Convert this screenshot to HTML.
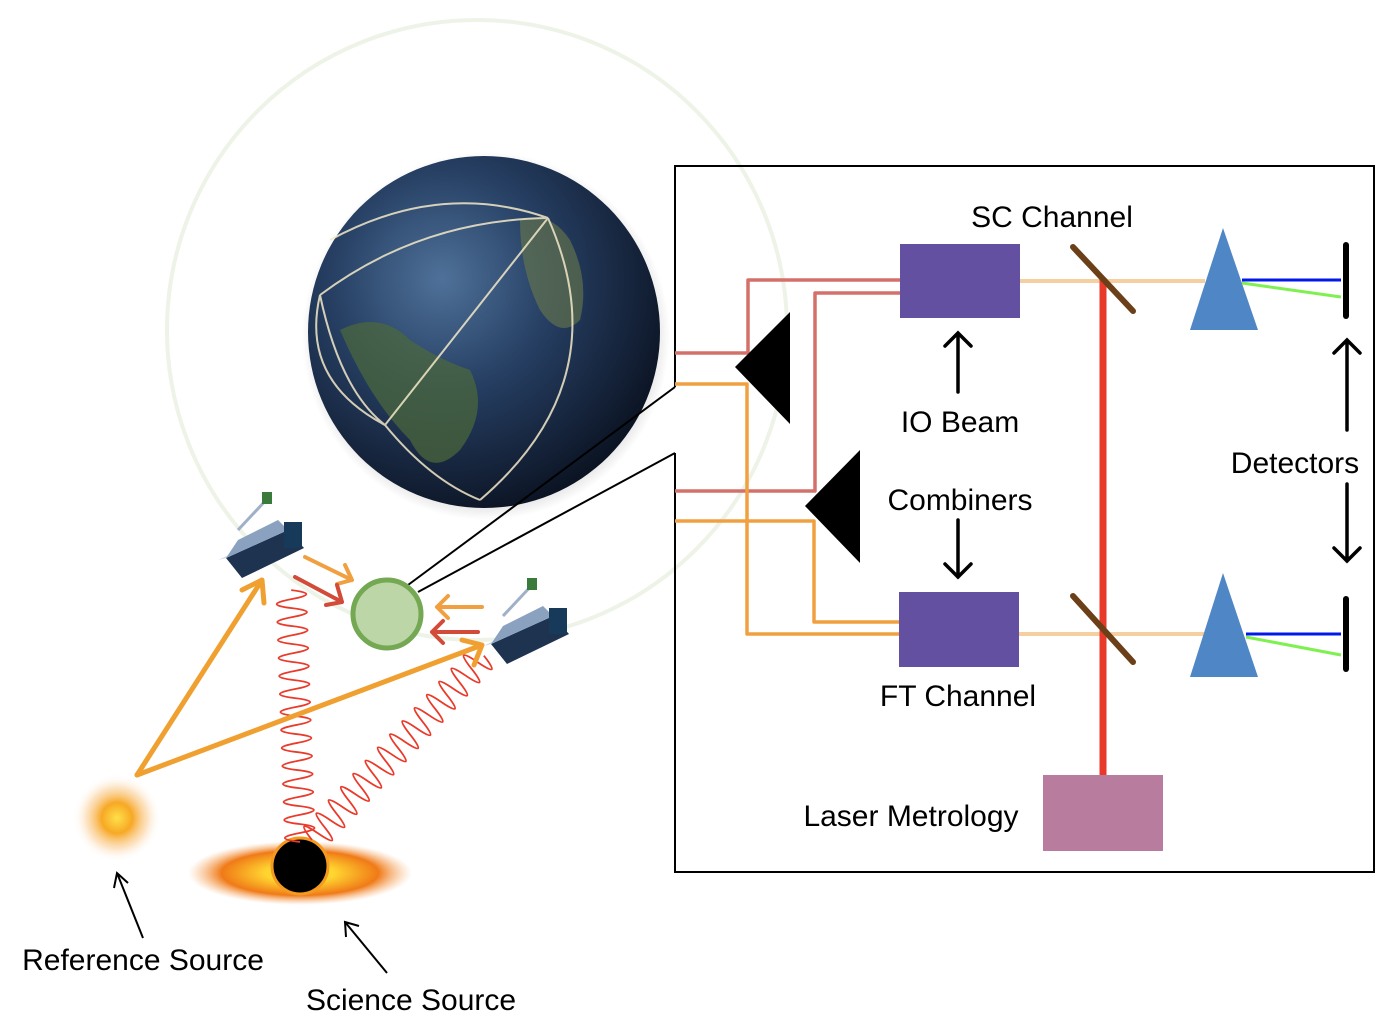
<!DOCTYPE html>
<html><head><meta charset="utf-8"><style>
html,body{margin:0;padding:0;background:#fff;}
svg{display:block;}
text{font-family:"Liberation Sans","DejaVu Sans",sans-serif;fill:#000;}
</style></head><body>
<svg width="1392" height="1034" viewBox="0 0 1392 1034" xmlns="http://www.w3.org/2000/svg">
<defs>
<radialGradient id="earth" cx="0.38" cy="0.35" r="0.7">
<stop offset="0" stop-color="#4f7199"/><stop offset="0.45" stop-color="#263f63"/><stop offset="0.85" stop-color="#121e33"/><stop offset="1" stop-color="#0a1220"/>
</radialGradient>
<radialGradient id="sun"><stop offset="0" stop-color="#ffe04a"/><stop offset="0.35" stop-color="#f7a825"/><stop offset="0.7" stop-color="#fbd2a0" stop-opacity="0.6"/><stop offset="1" stop-color="#fff" stop-opacity="0"/></radialGradient>
<radialGradient id="disk"><stop offset="0.3" stop-color="#ffd630"/><stop offset="0.7" stop-color="#f07a18"/><stop offset="1" stop-color="#f7b070" stop-opacity="0"/></radialGradient>
<radialGradient id="shadow"><stop offset="0.8" stop-color="#000" stop-opacity="0.25"/><stop offset="1" stop-color="#000" stop-opacity="0"/></radialGradient>
</defs>
<circle cx="477" cy="330" r="310" fill="none" stroke="#eef3e8" stroke-width="4"/>
<circle cx="486" cy="336" r="184" fill="url(#shadow)"/>
<circle cx="484" cy="332" r="176" fill="url(#earth)"/>
<path d="M340 330 q40 -20 70 10 q30 20 60 30 q20 40 -10 80 q-30 30 -50 -10 q-40 -40 -70 -110z" fill="#4d6a3a" opacity="0.7"/>
<path d="M520 220 q30 -10 50 20 q20 40 10 80 q-20 20 -40 -10 q-20 -40 -20 -90z" fill="#6b7a4a" opacity="0.6"/>
<g fill="none" stroke="#f3e9c8" stroke-width="2" opacity="0.85">
<path d="M320 295 Q420 220 548 218"/><path d="M548 218 L385 425"/><path d="M548 218 Q620 380 480 500"/>
<path d="M320 295 Q340 390 385 425 Q430 480 480 500"/><path d="M330 240 Q440 180 548 218"/><path d="M320 295 Q300 380 385 425"/>
</g>
<path d="M675 387 L675 166 L1374 166 L1374 872 L675 872 L675 453" fill="none" stroke="#000" stroke-width="2"/>
<line x1="408" y1="585" x2="675" y2="387" stroke="#000" stroke-width="2"/>
<line x1="418" y1="592" x2="675" y2="453" stroke="#000" stroke-width="2"/>
<g fill="none" stroke-width="3.5" stroke-linejoin="round">
<path d="M675 353 H748 V280 H900" stroke="#d4706a"/>
<path d="M675 491 H815 V293 H900" stroke="#d4706a"/>
<path d="M675 384 H747 V634 H899" stroke="#f0a040"/>
<path d="M675 521 H814 V622 H899" stroke="#f0a040"/>
</g>
<polygon points="735,367 790,312 790,424" fill="#000"/>
<polygon points="805,506 860,450 860,563" fill="#000"/>
<rect x="900" y="244" width="120" height="74" fill="#6350a0"/>
<rect x="899" y="592" width="120" height="75" fill="#6350a0"/>
<line x1="1020" y1="281" x2="1205" y2="281" stroke="#f5cfa0" stroke-width="4"/>
<line x1="1019" y1="634" x2="1205" y2="634" stroke="#f5cfa0" stroke-width="4"/>
<line x1="1103" y1="278" x2="1103" y2="776" stroke="#e83a2a" stroke-width="7"/>
<line x1="1073" y1="247" x2="1133" y2="311" stroke="#6b3f18" stroke-width="6" stroke-linecap="round"/>
<line x1="1073" y1="596" x2="1133" y2="662" stroke="#6b3f18" stroke-width="6" stroke-linecap="round"/>
<polygon points="1223,228 1190,330 1258,330" fill="#4f86c6"/>
<polygon points="1223,573 1190,677 1258,677" fill="#4f86c6"/>
<line x1="1242" y1="280" x2="1341" y2="280" stroke="#0018e8" stroke-width="3"/>
<line x1="1242" y1="283" x2="1341" y2="297" stroke="#7ef050" stroke-width="3"/>
<line x1="1246" y1="634" x2="1341" y2="634" stroke="#0018e8" stroke-width="3"/>
<line x1="1246" y1="637" x2="1341" y2="655" stroke="#7ef050" stroke-width="3"/>
<line x1="1346" y1="245" x2="1346" y2="316" stroke="#000" stroke-width="6" stroke-linecap="round"/>
<line x1="1346" y1="599" x2="1346" y2="669" stroke="#000" stroke-width="6" stroke-linecap="round"/>
<rect x="1043" y="775" width="120" height="76" fill="#b77c9e"/>
<g fill="none" stroke="#000" stroke-width="3.5" stroke-linecap="round">
<path d="M958 392 V333 M945 346 L958 333 L971 346"/>
<path d="M958 520 V577 M945 564 L958 577 L971 564"/>
<path d="M1347 430 V340 M1334 353 L1347 340 L1360 353"/>
<path d="M1347 484 V561 M1334 548 L1347 561 L1360 548"/>
</g>
<g fill="none" stroke="#000" stroke-width="2">
<path d="M143 938 L117 873 M114 888 L117 873 L128 883"/>
<path d="M387 973 L345 922 M346 937 L345 922 L359 926"/>
</g>
<g font-size="30" text-anchor="middle">
<text x="1052" y="227">SC Channel</text>
<text x="960" y="432">IO Beam</text>
<text x="960" y="510">Combiners</text>
<text x="958" y="706">FT Channel</text>
<text x="1295" y="473">Detectors</text>
<text x="911" y="826">Laser Metrology</text>
<text x="143" y="970">Reference Source</text>
<text x="411" y="1010">Science Source</text>
</g>
<circle cx="117" cy="818" r="44" fill="url(#sun)"/>
<ellipse cx="300" cy="873" rx="112" ry="32" fill="url(#disk)"/>
<circle cx="300" cy="866" r="28" fill="#000" stroke="#f59a20" stroke-width="3"/>
<g fill="none" stroke="#ea3a2a" stroke-width="1.8">
<path transform="translate(300,842) rotate(-92)" d="M0 0 q4.5 -30 9 0 t9 0 t9 0 t9 0 t9 0 t9 0 t9 0 t9 0 t9 0 t9 0 t9 0 t9 0 t9 0 t9 0 t9 0 t9 0 t9 0 t9 0 t9 0 t9 0 t9 0 t9 0 t9 0 t9 0 t9 0 t9 0 t9 0 t9 0"/>
<path transform="translate(312,840) rotate(-47)" d="M0 0 q4.5 -30 9 0 t9 0 t9 0 t9 0 t9 0 t9 0 t9 0 t9 0 t9 0 t9 0 t9 0 t9 0 t9 0 t9 0 t9 0 t9 0 t9 0 t9 0 t9 0 t9 0 t9 0 t9 0 t9 0 t9 0 t9 0 t9 0 t9 0 t9 0"/>
</g>
<g fill="none" stroke="#f0a030" stroke-width="5" stroke-linecap="round" stroke-linejoin="round">
<path d="M137 775 L262 580 M242 590 L262 580 L264 603"/>
<path d="M137 775 L482 645 M462 640 L482 645 L474 665"/>
</g>
<g fill="none" stroke-width="4" stroke-linecap="round" stroke-linejoin="round">
<path d="M305 557 L352 580 M345 565 L352 580 L337 584" stroke="#f0a040"/>
<path d="M295 577 L342 602 M337 585 L342 602 L326 605" stroke="#d24a38"/>
<path d="M482 607 L437 607 M448 596 L437 607 L448 618" stroke="#f0a040"/>
<path d="M478 632 L432 632 M443 621 L432 632 L443 643" stroke="#d24a38"/>
</g>
<circle cx="387" cy="614" r="34" fill="#bcd6a8" stroke="#74a852" stroke-width="5"/>
<g transform="translate(218,490)">
<polygon points="8,68 70,40 86,58 24,88" fill="#1e3350"/>
<polygon points="0,70 62,42 70,40 8,68" fill="#c9d6e6"/>
<polygon points="20,50 60,30 70,40 8,68" fill="#8aa2c0"/>
<rect x="66" y="32" width="18" height="26" fill="#173a5a"/>
<line x1="20" y1="40" x2="50" y2="8" stroke="#9fb0c8" stroke-width="3"/>
<rect x="44" y="2" width="10" height="12" fill="#3a7a3a"/>
</g>
<g transform="translate(483,576)">
<polygon points="8,68 70,40 86,58 24,88" fill="#1e3350"/>
<polygon points="0,70 62,42 70,40 8,68" fill="#c9d6e6"/>
<polygon points="20,50 60,30 70,40 8,68" fill="#8aa2c0"/>
<rect x="66" y="32" width="18" height="26" fill="#173a5a"/>
<line x1="20" y1="40" x2="50" y2="8" stroke="#9fb0c8" stroke-width="3"/>
<rect x="44" y="2" width="10" height="12" fill="#3a7a3a"/>
</g>
</svg>
</body></html>
